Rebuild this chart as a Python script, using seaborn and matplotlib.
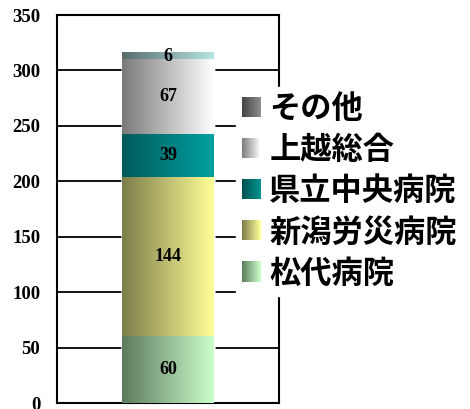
import numpy as np
import matplotlib
matplotlib.use("Agg")
import matplotlib.pyplot as plt
import seaborn as sns
from matplotlib.legend_handler import HandlerBase
from matplotlib.patches import Rectangle
from matplotlib.colors import to_rgb

# ---- data ----
categories = ["松代病院", "新潟労災病院", "県立中央病院", "上越総合", "その他"]
values = [60, 144, 39, 67, 6]
yticks = [0, 50, 100, 150, 200, 250, 300, 350]
ytick_labels = ["0", "50", "100", "150", "200", "250", "300", "350"]

# ---- style ----
grad_dark = ["#5c7a5c", "#7d7d4a", "#005a5a", "#7a7a7a", "#586c6c"]
grad_light = ["#ccffcc", "#ffff99", "#00a0a0", "#ffffff", "#b8e4e4"]
leg_dark = ["#5c7a5c", "#7d7d4a", "#005050", "#7a7a7a", "#444444"]
leg_light = ["#ccffcc", "#ffff99", "#009090", "#ffffff", "#8c8c8c"]

sns.set_theme(style="white")
plt.rcParams["font.family"] = ["Noto Sans CJK JP", "DejaVu Sans"]

fig = plt.figure(figsize=(4.7, 4.09), dpi=100)
ax = fig.add_axes([57 / 470, 6 / 409, 222 / 470, 388 / 409])

cum = np.cumsum(values)
bottoms = np.concatenate([[0], cum[:-1]])
patches = []
for i in range(len(values) - 1, -1, -1):
    sns.barplot(x=["total"], y=[cum[i]], color=grad_light[i], width=0.41,
                ax=ax, saturation=1, zorder=2)
    patches.append(ax.patches[-1])
patches = patches[::-1]

def gradient(c0, c1, n=256):
    a = np.array(to_rgb(c0)); b = np.array(to_rgb(c1))
    t = np.linspace(0, 1, n)[None, :, None]
    return (1 - t) * a + t * b

for i, p in enumerate(patches):
    x0 = p.get_x(); x1 = x0 + p.get_width()
    y0 = bottoms[i]; y1 = p.get_height()
    ax.imshow(gradient(grad_dark[i], grad_light[i]), extent=(x0, x1, y0, y1),
              aspect="auto", interpolation="bilinear", zorder=3)
    ax.text(x0 + p.get_width() / 2, (y0 + y1) / 2, str(values[i]),
            ha="center", va="center", fontsize=13, fontweight="bold",
            family="Liberation Serif", color="black", zorder=4)

ax.set_xlim(-0.5, 0.5)
ax.set_ylim(0, 350)
ax.set_yticks(yticks)
ax.set_yticklabels(ytick_labels, fontsize=13.5, fontweight="bold",
                   family="Liberation Serif")
ax.set_xticks([])
ax.set_xlabel("")
ax.set_ylabel("")
ax.tick_params(axis="y", length=0, pad=12, colors="black")
ax.yaxis.grid(True, color="black", linewidth=1.3)
ax.set_axisbelow(True)
for s in ax.spines.values():
    s.set_color("black")
    s.set_linewidth(1.5)
    s.set_visible(True)


class GradHandler(HandlerBase):
    def __init__(self, c0, c1):
        super().__init__()
        self.c0, self.c1 = c0, c1

    def create_artists(self, legend, orig_handle, xdescent, ydescent,
                       width, height, fontsize, trans):
        n = 24
        a = np.array(to_rgb(self.c0)); b = np.array(to_rgb(self.c1))
        arts = []
        for k in range(n):
            t = k / (n - 1)
            col = (1 - t) * a + t * b
            r = Rectangle((-xdescent + width * k / n, -ydescent),
                          width / n * 1.05, height, facecolor=col,
                          edgecolor="none", transform=trans)
            arts.append(r)
        return arts

handles = []
hmap = {}
labels = []
for i in range(len(categories) - 1, -1, -1):
    h = Rectangle((0, 0), 1, 1)
    handles.append(h)
    hmap[h] = GradHandler(leg_dark[i], leg_light[i])
    labels.append(categories[i])

leg = fig.legend(handles, labels, handler_map=hmap, loc="upper left",
                 bbox_to_anchor=(235.5 / 470, 1 - 87 / 409),
                 frameon=True, fancybox=False, framealpha=1,
                 facecolor="white", edgecolor="white",
                 borderpad=0.2, borderaxespad=0,
                 handlelength=0.61, handleheight=0.61, handletextpad=0.27,
                 labelspacing=0.29,
                 prop={"family": ["Noto Sans CJK JP", "DejaVu Sans"],
                       "weight": "bold", "size": 22.5})
for t in leg.get_texts():
    t.set_color("black")

fig.savefig("out.png", dpi=100)
